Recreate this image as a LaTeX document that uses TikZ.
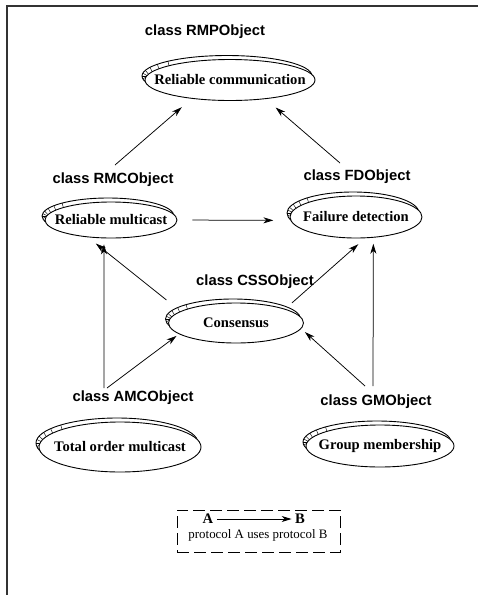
\documentclass[tikz,border=0pt]{standalone}
\usepackage{fontspec}
\setmainfont{Liberation Serif}
\newfontfamily\clsfont{Liberation Sans}
\usetikzlibrary{arrows.meta,shapes.geometric}

% stacked protocol ellipse: name, x, y, x radius, y radius, text
% a copy of the outline sits behind, shifted up-left, with short
% rungs across the visible crescent on its left end
\newcommand\protocol[6]{%
  \draw[ellline, fill=white] (#2-3,#3-4) ellipse [x radius=#4pt, y radius=#5pt];
  \begin{scope}
    \clip (#2-3,#3-4) ellipse [x radius=#4pt, y radius=#5pt];
    \foreach \t in {172,180,188,196,205,215,226} {
      \pgfmathsetmacro\nx{#5*cos(\t)}
      \pgfmathsetmacro\ny{#4*sin(\t)}
      \pgfmathsetmacro\nn{sqrt(\nx*\nx+\ny*\ny)}
      \draw[hatch]
        ({#2-3+#4*cos(\t)+3*\nx/\nn},{#3-4+#5*sin(\t)+3*\ny/\nn}) --
        ({#2-3+#4*cos(\t)-12*\nx/\nn},{#3-4+#5*sin(\t)-12*\ny/\nn});
    }
  \end{scope}
  \node[proto, minimum width=2*#4pt, minimum height=2*#5pt] (#1) at (#2,#3) {\makebox[0pt]{#6}};
}

\begin{document}
\begin{tikzpicture}[x=1pt,y=-1pt,
  ellline/.style={line width=0.9pt},
  hatch/.style={line width=0.45pt},
  clslabel/.style={font=\clsfont\bfseries\fontsize{14.8}{16}\selectfont, inner sep=0pt},
  proto/.style={ellipse, draw, ellline, fill=white, inner sep=0pt,
    font=\bfseries\fontsize{14.6}{16}\selectfont},
  uses/.style={line width=0.75pt, -{Stealth[length=10pt,width=6pt,inset=3pt]}},
  legendbox/.style={draw, line width=0.8pt, dash pattern=on 12pt off 5pt,
    inner sep=0pt, minimum width=163pt, minimum height=42pt}]
\useasboundingbox (0,0) rectangle (478,595);

% page frame
\draw[line width=1.3pt, black!80] (7,595) -- (7,6) -- (478,6);

% class names
\node[clslabel] (rmpl) at (205,32)  {class RMPObject};
\node[clslabel] (rmcl) at (113,180) {class RMCObject};
\node[clslabel] (fdl)  at (357,177) {class FDObject};
\node[clslabel] (cssl) at (255,282) {class CSSObject};
\node[clslabel] (amcl) at (133,398) {class AMCObject};
\node[clslabel] (gml)  at (376,402) {class GMObject};

% protocols
\protocol{rc}{230}{80}{85}{20.5}{Reliable communication}
\protocol{rm}{111}{220}{66}{18}{Reliable multicast}
\protocol{fd}{356}{217}{66}{21}{Failure detection}
\protocol{cs}{236}{323}{67.5}{20}{Consensus}
\protocol{tom}{120}{447}{81}{25}{Total order multicast}
\protocol{gm}{380}{446}{74}{21}{Group membership}

% free ends of the connectors
\coordinate (rmc-up) at (115,165);
\coordinate (fd-up)  at (340,163);
\coordinate (amc-v)  at (104,388);
\coordinate (amc-d)  at (107,388);
\coordinate (gm-d)   at (365,386);
\coordinate (gm-v)   at (373,386);

% "uses" relations
\draw[uses, shorten >=13pt] (rmc-up) -- (rc.206);
\draw[uses, shorten >=13pt] (fd-up) -- (rc.332);
\draw[uses, shorten <=15pt, shorten >=17pt] (rm.east) -- (fd.183);
\draw[uses, shorten <=18pt, shorten >=10pt] (cs.168) -- (rm.217);
\draw[uses, shorten <=9pt, shorten >=9pt] (cs.16) -- (fd.293);
\draw[uses, shorten >=6pt] (amc-v) -- (rm.249);
\draw[uses, shorten >=3pt] (amc-d) -- (cs.191);
\draw[uses, shorten >=5pt] (gm-d) -- (cs.355);
\draw[uses, shorten >=6pt] (gm-v) -- (fd.310);

% legend
\node[legendbox] (legend) at (258.5,531) {};
\node[font=\bfseries\fontsize{14.6}{16}\selectfont] (la) at (208,519) {A};
\node[font=\bfseries\fontsize{14.6}{16}\selectfont] (lb) at (300,519) {B};
\draw[uses] (la) -- (lb);
\node[font=\fontsize{12.9}{14}\selectfont, inner sep=0pt] (lt) at (258,535) {protocol A uses protocol B};
\end{tikzpicture}
\end{document}
